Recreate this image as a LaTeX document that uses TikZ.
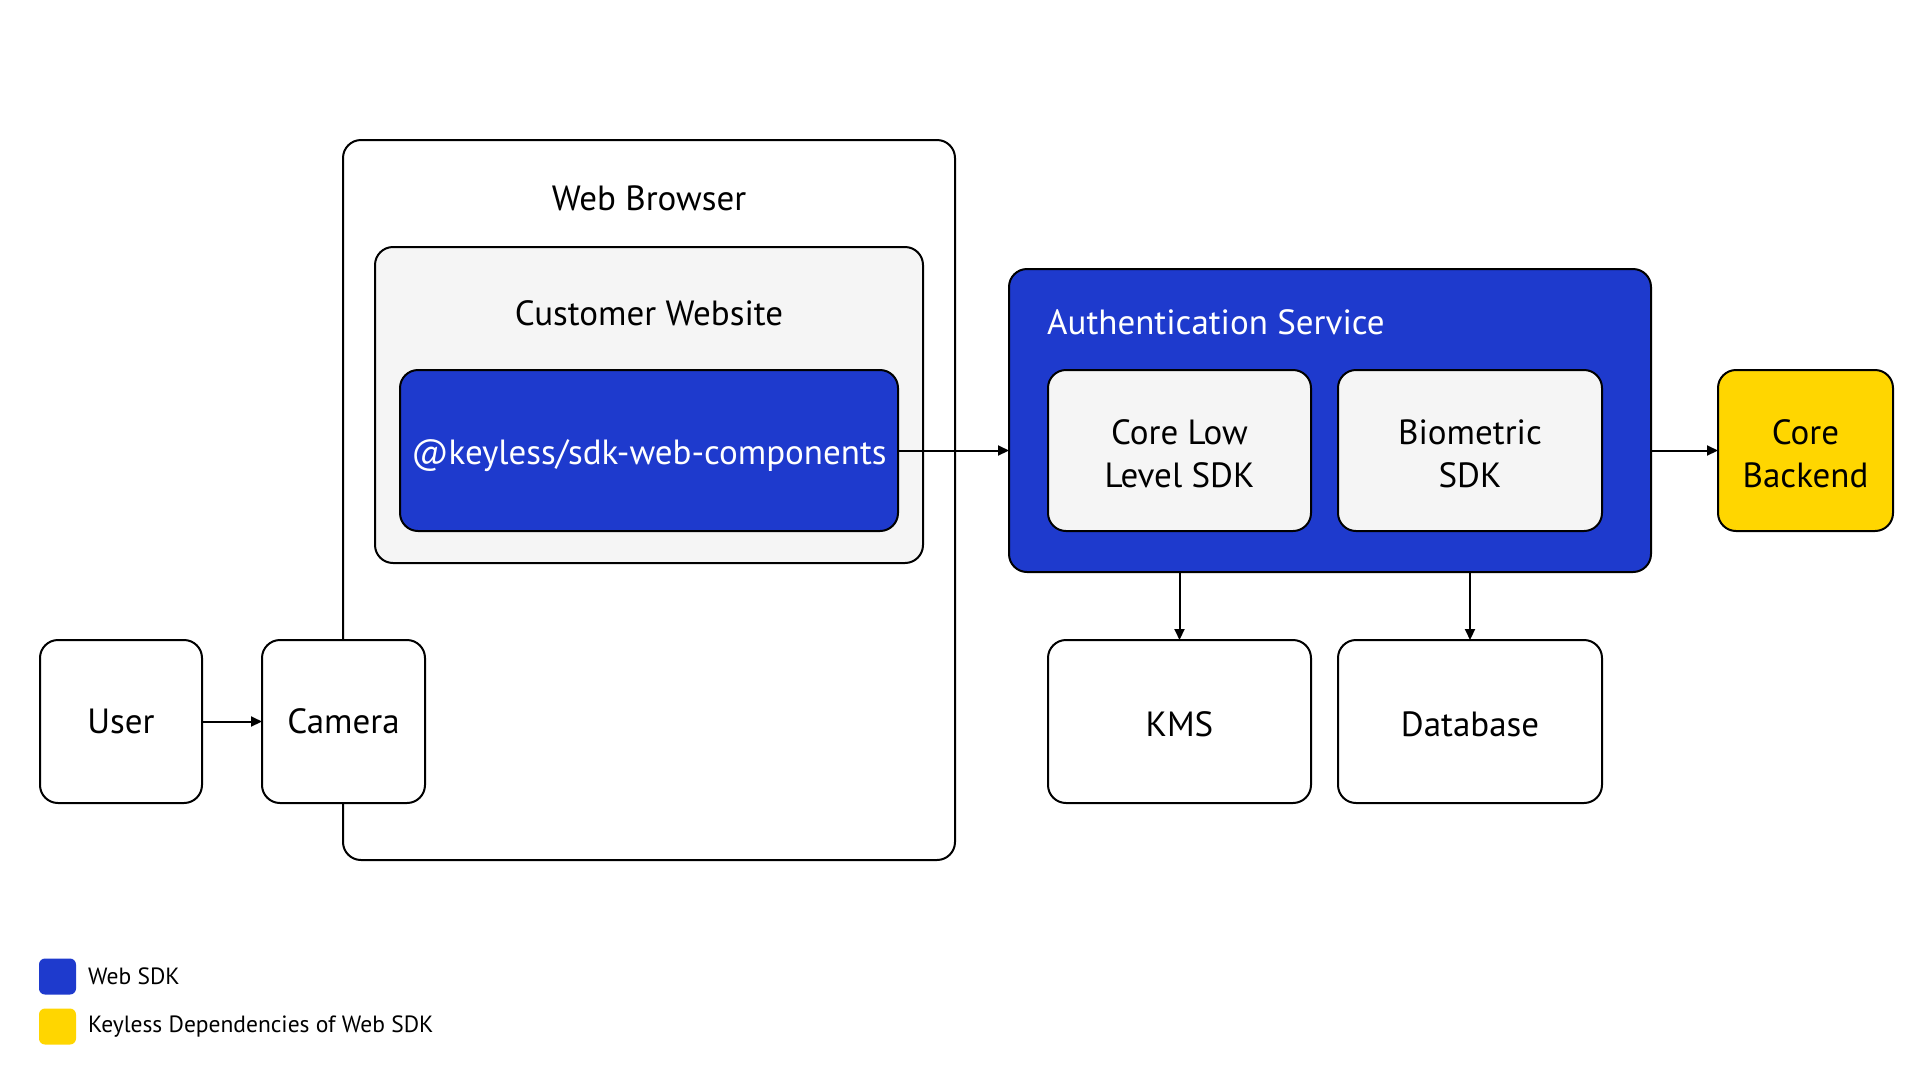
\documentclass[tikz,border=0pt]{standalone}
\usepackage{fontspec}
\setmainfont{PT Sans}
\usetikzlibrary{arrows.meta}
\definecolor{sdkblue}{HTML}{1E3ACD}
\definecolor{depyellow}{HTML}{FFD600}
\definecolor{lightgray}{HTML}{F5F5F5}
\newcommand\txtdown[2]{\raisebox{-#1}[\height][\depth]{#2}}
\tikzset{
  box/.style={draw=black, line width=2pt, rounded corners=18pt, outer sep=0pt, inner sep=0pt, align=center, font=\fontsize{35}{43}\selectfont},
  lbl/.style={inner sep=0pt, font=\fontsize{35}{43}\selectfont},
  legsq/.style={rounded corners=6pt, minimum width=37pt, minimum height=36pt, inner sep=0pt},
  legtxt/.style={anchor=west, inner sep=0pt, font=\fontsize{23.5}{28}\selectfont},
  arr/.style={line width=2pt, -{Triangle[length=11pt,width=10pt]}}
}
\begin{document}
\begin{tikzpicture}[x=1pt,y=-1pt]
\useasboundingbox[fill=white] (0,0) rectangle (1920,1080);
% Web browser
\node[box, fill=white, minimum width=612pt, minimum height=720pt] (browser) at (649,500) {};
\node[lbl] (browserlbl) at (649,198) {Web Browser};
\node[box, fill=lightgray, minimum width=548pt, minimum height=316pt] (customer) at (649,405) {};
\node[lbl] (customerlbl) at (649,313) {Customer Website};
\node[box, fill=sdkblue, text=white, minimum width=498pt, minimum height=161pt] (sdk) at (649,450.5) {\txtdown{5pt}{@keyless/sdk-web-components}};
% Authentication service
\node[box, fill=sdkblue, minimum width=642pt, minimum height=303pt] (auth) at (1330,420.5) {};
\node[lbl, text=white, anchor=west] (authlbl) at (1047,322) {Authentication Service};
\node[box, fill=lightgray, minimum width=263pt, minimum height=161pt] (corell) at (1179.5,450.5) {\txtdown{3pt}{\parbox{250pt}{\centering Core Low\\Level SDK}}};
\node[box, fill=lightgray, minimum width=264pt, minimum height=161pt] (bio) at (1470,450.5) {\txtdown{3pt}{\parbox{250pt}{\centering Biometric\\SDK}}};
\node[box, fill=depyellow, minimum width=175pt, minimum height=161pt] (backend) at (1805.5,450.5) {\txtdown{3pt}{\parbox{170pt}{\centering Core\\Backend}}};
\node[box, fill=white, minimum width=263pt, minimum height=163pt] (kms) at (1179.5,721.5) {\txtdown{2.5pt}{KMS}};
\node[box, fill=white, minimum width=264pt, minimum height=163pt] (db) at (1470,721.5) {\txtdown{2.5pt}{Database}};
% User and camera
\node[box, fill=white, minimum width=162pt, minimum height=163pt] (user) at (121,721.5) {User};
\node[box, fill=white, minimum width=163pt, minimum height=163pt] (camera) at (343.5,721.5) {Camera};
% connectors
\draw[arr] (user.east) -- (camera.west);
\draw[arr] (sdk.east) -- (auth.west |- sdk.east);
\draw[arr] (auth.east |- backend.west) -- (backend.west);
\draw[arr] (kms.north |- auth.south) -- (kms.north);
\draw[arr] (db.north |- auth.south) -- (db.north);
% legend
\node[legsq, fill=sdkblue] (legblue) at (57.5,976.5) {};
\node[legtxt] (legbluetxt) at (88,976.5) {Web SDK};
\node[legsq, fill=depyellow] (legyellow) at (57.5,1026.5) {};
\node[legtxt] (legyellowtxt) at (88,1026.5) {Keyless Dependencies of Web SDK};
\end{tikzpicture}
\end{document}
